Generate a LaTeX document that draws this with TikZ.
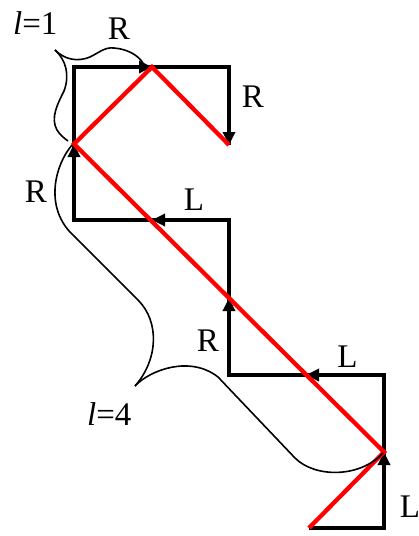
\documentclass[tikz,border=0pt]{standalone}
\usepackage{fontspec}
\setmainfont{Liberation Serif}
\usetikzlibrary{arrows.meta}
\begin{document}
\begin{tikzpicture}[x=1pt,y=-1pt,
  stair/.style={line width=4.5pt, line join=miter},
  ray/.style={red, line width=4.3pt, line join=miter},
  tipar/.style={line width=4.5pt, -{Triangle[length=13pt,width=12pt]}},
  bracel/.style={line width=1.6pt},
  lab/.style={anchor=base, inner sep=0pt, font=\fontsize{33}{38}\selectfont}]
\useasboundingbox (0,0) rectangle (419,536);
% staircase corners
\coordinate (p0) at (309,528);
\coordinate (p1) at (384,528);
\coordinate (p2) at (384,375);
\coordinate (p3) at (229,375);
\coordinate (p4) at (229,220);
\coordinate (p5) at (74,220);
\coordinate (p6) at (74,67);
\coordinate (p7) at (229,67);
\coordinate (p8) at (229,145);
% crossing points (arrow tips)
\coordinate (a1) at (384,452);
\coordinate (a2) at (306,375);
\coordinate (a3) at (229,298);
\coordinate (a4) at (152,220);
\coordinate (a5) at (74,144);
\coordinate (a6) at (152,67);
% black staircase
\draw[stair] (p0) -- (p1) -- (p2) -- (p3) -- (p4) -- (p5) -- (p6) -- (p7) -- (p8);
\draw[tipar] (p1) -- (a1);
\draw[tipar] (p2) -- (a2);
\draw[tipar] (p3) -- (a3);
\draw[tipar] (p4) -- (a4);
\draw[tipar] (p5) -- (a5);
\draw[tipar] (p6) -- (a6);
\draw[tipar] (p7) -- (p8);
% red ray
\draw[ray] (p0) -- (a1) -- (a5) -- (a6) -- (p8);
% brace l=1
\coordinate (c1) at (55,50);
\draw[bracel] (c1) .. controls (65,60) and (78,62) .. (90,57)
  .. controls (100,52) and (105,47) .. (114,48)
  .. controls (127,49) and (138,55) .. (143,63);
\draw[bracel] (c1) .. controls (66,60) and (70,75) .. (64,91)
  .. controls (58,103) and (50,118) .. (57,130)
  .. controls (60,135) and (64,138) .. (68,141);
% brace l=4
\coordinate (c2) at (135,386);
\draw[bracel] (72,145) .. controls (55,165) and (45,205) .. (70,232)
  -- (138,300) .. controls (160,322) and (158,360) .. (c2);
\draw[bracel] (c2) .. controls (150,370) and (190,355) .. (218,377)
  -- (295,458) .. controls (315,478) and (360,478) .. (383,453);
% labels
\node[lab, anchor=base west] (l1) at (13,34) {\textit{l}=1};
\node[lab] (rt) at (119,39) {R};
\node[lab] (rr) at (253,107) {R};
\node[lab] (rl) at (36,202) {R};
\node[lab] (lt) at (194,210) {L};
\node[lab] (rm) at (208,351) {R};
\node[lab] (lm) at (347.5,367) {L};
\node[lab, anchor=base west] (l4) at (87,425) {\textit{l}=4};
\node[lab] (lb) at (410,517) {L};
\end{tikzpicture}
\end{document}
